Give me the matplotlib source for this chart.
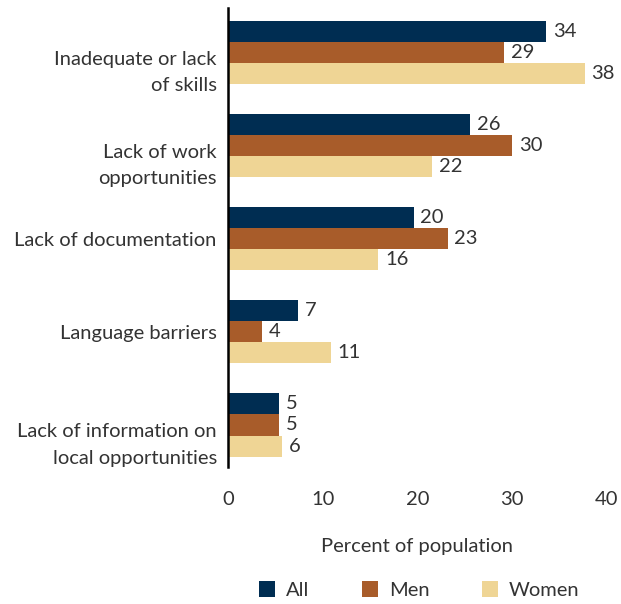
import numpy as np
import matplotlib.pyplot as plt
import matplotlib.transforms as mtransforms
from matplotlib.patches import Patch

categories = ["Inadequate or lack\nof skills", "Lack of work\nopportunities",
              "Lack of documentation", "Language barriers",
              "Lack of information on\nlocal opportunities"]
series = ["All", "Men", "Women"]
all_vals = [33.6, 25.6, 19.6, 7.4, 5.4]
men_vals = [29.2, 30.0, 23.2, 3.6, 5.4]
women_vals = [37.7, 21.6, 15.9, 10.9, 5.7]
colors = ["#002D52", "#A85C2A", "#EFD595"]

plt.rcParams['font.family'] = ['Lato', 'DejaVu Sans']
text_color = "#333333"
fs = 14.5

fig = plt.figure(figsize=(6.21, 6.04), dpi=100)
ax = fig.add_axes([0.367, 0.227, 0.61, 0.76])

y = np.arange(len(categories))
h = 0.226
for i, (vals, col) in enumerate(zip([all_vals, men_vals, women_vals], colors)):
    pos = y + (i - 1) * h
    ax.barh(pos, vals, height=h, color=col)
    for p, v in zip(pos, vals):
        ax.text(v + 0.7, p, f"{round(v)}", va="center", ha="left",
                fontsize=fs, color=text_color)

ax.set_ylim(4.45, -0.48)
ax.set_xlim(0, 40)
ax.set_xticks([0, 10, 20, 30, 40])
ax.set_yticks(y)
ax.set_yticklabels(categories, fontsize=fs, color=text_color, linespacing=1.65)
ax.tick_params(axis="x", length=0, labelsize=fs, labelcolor=text_color, pad=17)
ax.tick_params(axis="y", length=0, pad=8)

# two-line labels sit lower, first line level with the group centre
shift = mtransforms.ScaledTranslation(0, -0.14, fig.dpi_scale_trans)
for lab in ax.get_yticklabels():
    if "\n" in lab.get_text():
        lab.set_transform(lab.get_transform() + shift)

for s in ["top", "right", "bottom"]:
    ax.spines[s].set_visible(False)
ax.spines["left"].set_linewidth(1.8)
ax.spines["left"].set_color("black")
ax.set_xlabel("Percent of population", fontsize=fs, color=text_color, labelpad=22)

handles = [Patch(facecolor=c, label=s) for c, s in zip(colors, series)]
fig.legend(handles=handles, loc="center", bbox_to_anchor=(0.675, 0.023), ncol=3,
           frameon=False, fontsize=fs, handlelength=0.8, handleheight=0.8,
           columnspacing=2.6, handletextpad=0.55, labelcolor=text_color)

fig.savefig("out.png", dpi=100)
